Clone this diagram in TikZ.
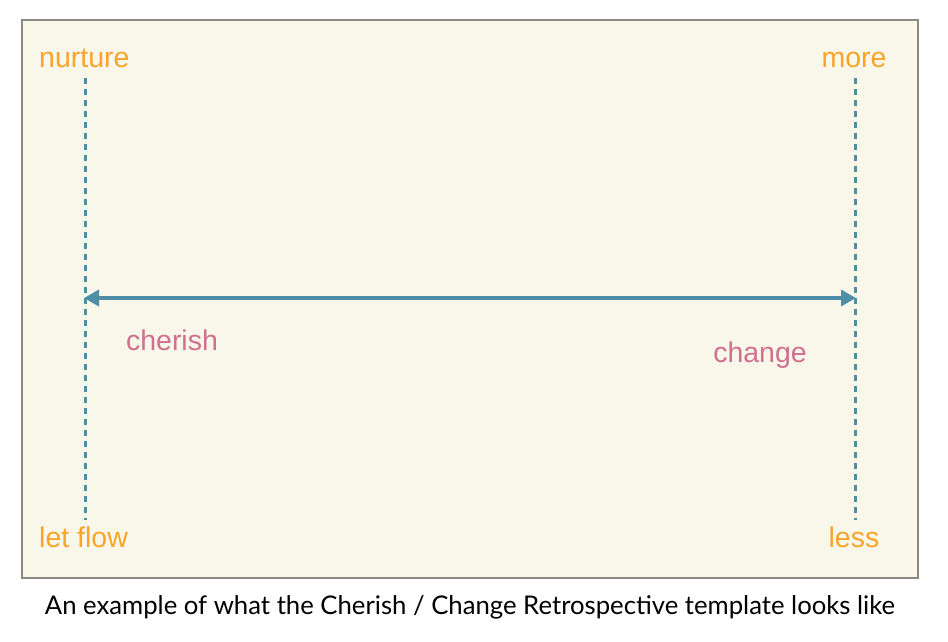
\documentclass[tikz,border=0pt]{standalone}
\usepackage{fontspec}
\setmainfont{Liberation Sans}
\newfontfamily\capfont{Lato}
\usetikzlibrary{arrows.meta}
\definecolor{panel}{HTML}{F9F6EA}
\definecolor{frame}{HTML}{8C8A82}
\definecolor{axis}{HTML}{4E8FA6}
\definecolor{orangelbl}{HTML}{FAA52A}
\definecolor{pinklbl}{HTML}{D0708F}
\tikzset{
  endlbl/.style={text=orangelbl, font=\fontsize{28.5}{32}\selectfont, inner sep=0pt},
  midlbl/.style={text=pinklbl, font=\fontsize{28.5}{32}\selectfont, inner sep=0pt},
  guide/.style={draw=axis, line width=3pt, dash pattern=on 6pt off 5pt},
  spine/.style={draw=axis, line width=3.5pt, {Triangle[length=15pt,width=16pt]}-{Triangle[length=15pt,width=16pt]}, shorten <=-1pt, shorten >=-1pt}
}
\begin{document}
\begin{tikzpicture}[x=1pt,y=-1pt]
\useasboundingbox (0,0) rectangle (948,642);
\fill[white] (0,0) rectangle (948,642);
\draw[fill=panel, draw=frame, line width=1.2pt] (22,20) rectangle (918,578);
\coordinate (lt) at (85,78);
\coordinate (lb) at (85,520);
\coordinate (rt) at (855,78);
\coordinate (rb) at (855,520);
\coordinate (la) at (85,298);
\coordinate (ra) at (855,298);
\draw[guide] (lt) -- (lb);
\draw[guide] (rt) -- (rb);
\draw[spine] (la) -- (ra);
\node[endlbl, anchor=base west] (nurture) at (39,67) {nurture};
\node[endlbl, anchor=base] (more) at (854,67) {more};
\node[endlbl, anchor=base west] (letflow) at (39,547) {let flow};
\node[endlbl, anchor=base] (less) at (854,547) {less};
\node[midlbl, anchor=base] (cherish) at (172,350) {cherish};
\node[midlbl, anchor=base] (change) at (760,362) {change};
\node[anchor=base, inner sep=0pt, font=\capfont\fontsize{25.7}{30}\selectfont] (caption) at (470,614) {An example of what the Cherish / Change Retrospective template looks like};
\end{tikzpicture}
\end{document}
